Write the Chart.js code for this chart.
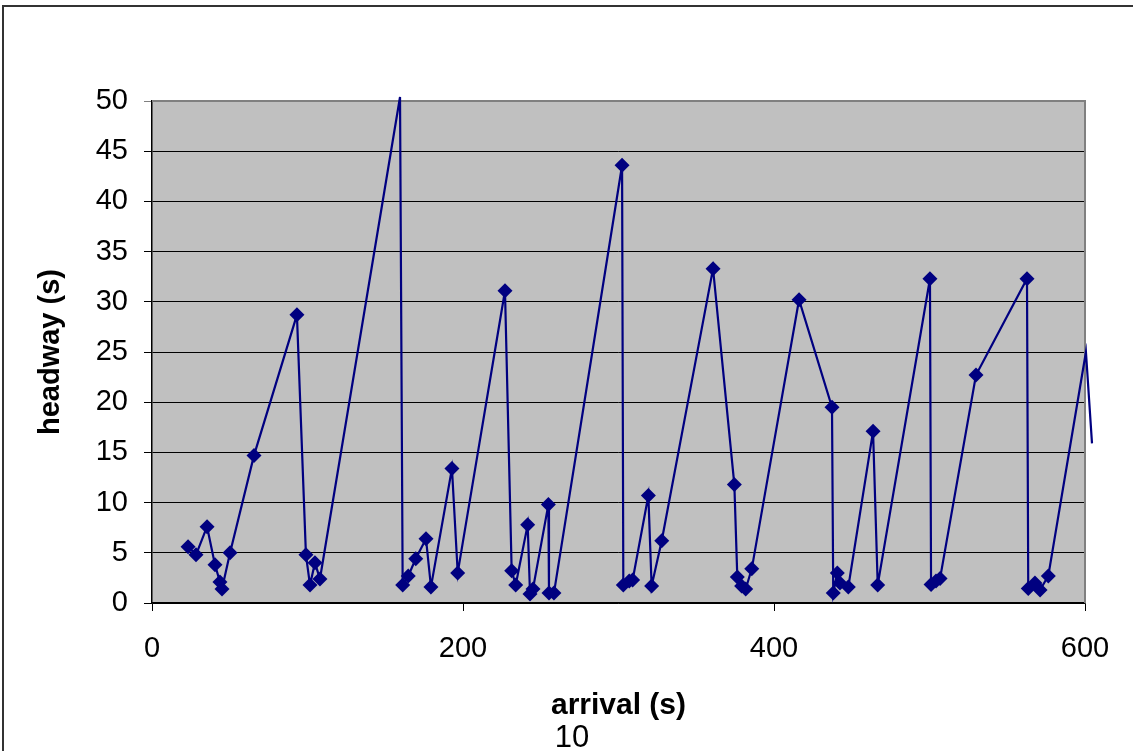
<!DOCTYPE html>
<html>
<head>
<meta charset="utf-8">
<script src="https://cdn.jsdelivr.net/npm/chart.js@4/dist/chart.umd.min.js"></script>
<style>
  body { margin: 0; background: #fff; overflow: hidden; }
  #wrap { position: relative; width: 1133px; height: 751px; }
  #frame { position: absolute; left: 2px; top: 5px; width: 1160px; height: 780px; border: 2px solid #333; box-sizing: border-box; }
  #page { position: absolute; left: 542px; top: 719px; width: 60px; text-align: center; font: 31px "Liberation Sans", Arial, sans-serif; color: #000; }
  canvas { position: absolute; left: 0; top: 0; }
</style>
</head>
<body>
<div id="wrap">
  <div id="frame"></div>
  <canvas id="chart" width="1133" height="751"></canvas>
  <div id="page">10</div>
</div>
<script>
// ---- data ----
const arrival = [
  23.2, 28.3, 35.4, 40.5, 43.7, 45.0, 50.2, 65.6, 93.2, 99.0,
  101.6, 104.8, 108.0, 159.5, 161.2, 164.8, 169.6, 176.2, 179.4, 192.9,
  196.6, 227.0, 231.3, 233.9, 241.6, 243.1, 245.0, 254.9, 255.3, 258.5,
  302.3, 303.1, 306.9, 309.1, 319.2, 321.3, 327.8, 360.8, 374.5, 376.4,
  379.2, 381.8, 385.7, 416.1, 437.3, 438.1, 440.7, 442.4, 447.8, 463.7,
  466.7, 500.3, 501.0, 504.2, 506.8, 529.9, 562.7, 563.5, 567.8, 571.1,
  576.4, 600.6, 604.5
];
const headway = [
  5.6, 4.8, 7.6, 3.8, 2.1, 1.4, 5.0, 14.7, 28.7, 4.8,
  1.8, 4.0, 2.4, 50.4, 1.8, 2.7, 4.4, 6.4, 1.6, 13.4,
  3.0, 31.1, 3.2, 1.8, 7.8, 0.9, 1.4, 9.8, 1.0, 1.0,
  43.6, 1.8, 2.2, 2.3, 10.7, 1.7, 6.2, 33.3, 11.8, 2.6,
  1.7, 1.4, 3.4, 30.2, 19.5, 1.0, 3.0, 2.0, 1.6, 17.1,
  1.8, 32.3, 1.85, 2.2, 2.45, 22.7, 32.3, 1.45, 2.0, 1.3,
  2.7, 25.0, 15.9
];
const xTicks = [0, 200, 400, 600];
const yTicks = [0, 5, 10, 15, 20, 25, 30, 35, 40, 45, 50];

const FONT = '"Liberation Sans", Arial, sans-serif';
const points = arrival.map((x, i) => ({ x: x, y: headway[i] }));

// grey plot area + grey top/right frame
const plotBg = {
  id: 'plotBg',
  beforeDraw(chart) {
    const { ctx, chartArea: a } = chart;
    ctx.save();
    ctx.fillStyle = '#C0C0C0';
    ctx.fillRect(a.left, a.top, a.right - a.left, a.bottom - a.top);
    ctx.restore();
  },
  beforeDatasetsDraw(chart) {
    const { ctx, chartArea: a } = chart;
    ctx.save();
    ctx.strokeStyle = '#808080';
    ctx.lineWidth = 2;
    ctx.beginPath();
    ctx.moveTo(a.left, a.top);
    ctx.lineTo(a.right, a.top);
    ctx.lineTo(a.right, a.bottom);
    ctx.stroke();
    ctx.restore();
  }
};

new Chart(document.getElementById('chart'), {
  type: 'scatter',
  data: {
    datasets: [{
      data: points,
      showLine: true,
      clip: false,
      borderColor: '#000080',
      backgroundColor: '#000080',
      borderWidth: 2.2,
      pointStyle: 'rectRot',
      pointRadius: c => (c.raw && (c.raw.x > 600 || c.raw.y > 50)) ? 0 : 7.5,
      pointBorderWidth: 0,
      tension: 0
    }]
  },
  options: {
    responsive: false,
    animation: false,
    devicePixelRatio: 1,
    layout: { padding: { top: 101, right: 48, left: 0, bottom: 0 } },
    plugins: { legend: { display: false }, tooltip: { enabled: false } },
    scales: {
      x: {
        type: 'linear',
        // range set here so the line keeps running past 600 like the original
        afterDataLimits: s => { s.min = 0; s.max = 600; },
        afterFit: s => { s.height = 148; },
        afterBuildTicks: s => { s.ticks = xTicks.map(v => ({ value: v })); },
        border: { color: '#000', width: 1.5 },
        grid: { drawOnChartArea: false, drawTicks: true, tickLength: 8, color: '#000', lineWidth: 1 },
        ticks: { color: '#000', font: { family: FONT, size: 29 }, padding: 21, maxRotation: 0 },
        title: { display: true, text: 'arrival (s)', color: '#000', font: { family: FONT, size: 30, weight: 'bold' }, padding: { top: 0, bottom: 27 } }
      },
      y: {
        type: 'linear',
        min: 0, max: 50,
        afterFit: s => { s.width = 152; },
        afterBuildTicks: s => { s.ticks = yTicks.map(v => ({ value: v })); },
        border: { color: '#000', width: 1.5 },
        grid: { color: c => c.tick && c.tick.value === 50 ? '#808080' : '#000', lineWidth: 1, tickLength: 8 },
        ticks: { color: '#000', font: { family: FONT, size: 29 }, padding: 16 },
        title: { display: true, text: 'headway (s)', color: '#000', font: { family: FONT, size: 29, weight: 'bold' }, padding: { top: 34, bottom: 0 } }
      }
    }
  },
  plugins: [plotBg]
});
</script>
</body>
</html>
